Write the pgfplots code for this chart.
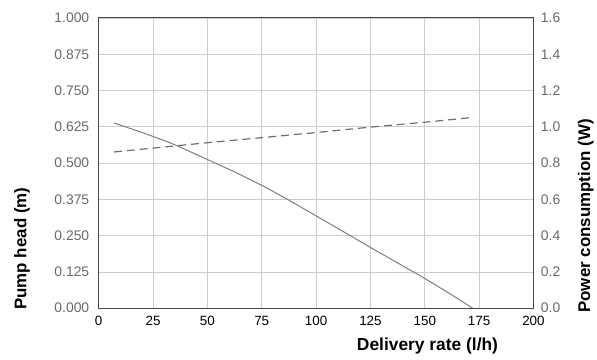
\documentclass[border=0pt]{standalone}
\usepackage{pgfplots}
\pgfplotsset{compat=1.18}
\usepackage{fontspec}
\setmainfont{Liberation Sans}
\definecolor{gridc}{RGB}{205,205,205}
\definecolor{framec}{RGB}{70,70,70}
\definecolor{tickc}{RGB}{105,105,105}
\definecolor{headc}{RGB}{125,125,125}
\definecolor{powc}{RGB}{110,110,110}
\begin{document}
\begin{tikzpicture}
\pgfplotsset{
  common/.style={
    scale only axis, width=436bp, height=291bp,
    xmin=0, xmax=200,
    /pgf/number format/assume math mode=true,
    axis line style={framec, line width=1pt},
    tick style={draw=none},
  }
}
\begin{axis}[
  common,
  ymin=0, ymax=1,
  xtick={0,25,...,200},
  ytick={0,0.125,...,1},
  grid=major,
  grid style={gridc, line width=0.6pt},
  yticklabel style={/pgf/number format/fixed, /pgf/number format/precision=3, /pgf/number format/fixed zerofill, font=\fontsize{14}{16}\selectfont, text=tickc, xshift=-6bp},
  xticklabel style={font=\fontsize{13.5}{16}\selectfont, text=black, yshift=-5bp},
  scaled y ticks=false,
  xlabel={Delivery rate (l/h)},
  xlabel style={at={(axis description cs:0.9266,-0.1306)}, anchor=east, font=\fontsize{17.5}{20}\bfseries\selectfont},
  ylabel={Pump head (m)},
  ylabel style={at={(axis description cs:-0.1766,-0.0172)}, anchor=west, rotate=0, font=\fontsize{17}{20}\bfseries\selectfont},
]
\addplot[headc, line width=1pt, smooth, tension=0.5] coordinates {
 (7,0.638) (20,0.605) (34,0.566) (50,0.512) (62,0.471) (75,0.423) (87,0.374) (100,0.318) (112,0.266) (125,0.209) (137,0.158) (150,0.102) (161,0.052) (172,0.0)
};
\end{axis}
\begin{axis}[
  common,
  axis x line=none,
  axis y line*=right,
  ymin=0, ymax=1.6,
  ytick={0,0.2,...,1.6},
  yticklabel style={/pgf/number format/fixed, /pgf/number format/precision=1, /pgf/number format/fixed zerofill, font=\fontsize{14}{16}\selectfont, text=tickc, xshift=4bp},
  ylabel={Power consumption (W)},
  ylabel style={at={(axis description cs:1.1204,-0.0275)}, anchor=west, rotate=0, font=\fontsize{17}{20}\bfseries\selectfont},
]
\addplot[powc, line width=1.2pt, dash pattern=on 8pt off 5pt] coordinates {
 (7,0.861) (50,0.912) (100,0.968) (125,0.998) (150,1.025) (172.5,1.052)
};
\end{axis}
\useasboundingbox (-99bp,-52bp) rectangle (498bp,309bp);
\end{tikzpicture}
\end{document}
